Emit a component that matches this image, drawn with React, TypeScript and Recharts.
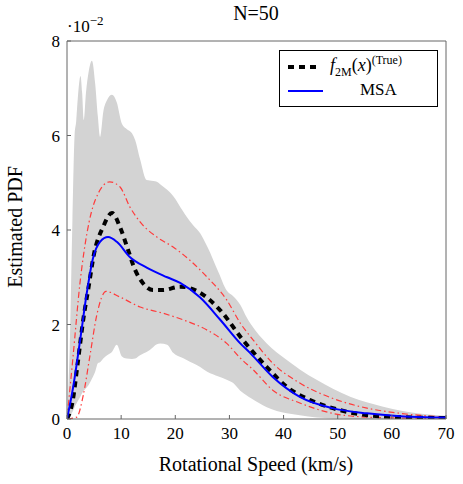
import React from "react";
import { ComposedChart, Area, Line, XAxis, YAxis } from "recharts";

// values are in units of 1e-2 (the axis multiplier is shown above the plot)
const bandX = [0, 0.5, 1, 1.4, 1.7, 2.0, 2.5, 2.8, 3.1, 3.5, 4.0, 4.6, 5.2, 5.7, 6.1, 6.7, 7.4, 8.3, 9.2, 10.1, 11, 12, 12.6, 13.5, 14.7, 15.3, 16.6, 17.2, 18.5, 19.6, 21.4, 22.1, 23.3, 24.6, 25.9, 28, 29.5, 30.7, 32, 33.2, 34, 36.9, 40.6, 43, 46.1, 52.3, 58.4, 64.6, 70];
const bandHigh = [0, 1.5, 4.2, 6.0, 6.3, 6.8, 7.26, 6.9, 6.33, 6.9, 7.35, 7.58, 7.1, 6.4, 5.97, 6.5, 6.75, 6.86, 6.7, 6.26, 6.14, 6.05, 5.9, 5.5, 5.06, 5.05, 5.02, 4.97, 4.85, 4.72, 4.4, 4.28, 4.1, 3.93, 3.65, 3.1, 2.72, 2.6, 2.42, 2.15, 2.0, 1.6, 1.25, 1.05, 0.83, 0.47, 0.26, 0.12, 0.07];
const bandLow = [0, 0.05, 0.15, 0.25, 0.32, 0.38, 0.48, 0.55, 0.6, 0.65, 0.72, 0.85, 1.0, 1.18, 1.2, 1.28, 1.35, 1.42, 1.57, 1.33, 1.28, 1.27, 1.28, 1.35, 1.42, 1.46, 1.58, 1.6, 1.57, 1.4, 1.29, 1.25, 1.18, 1.1, 1.0, 0.9, 0.83, 0.76, 0.6, 0.5, 0.44, 0.25, 0.12, 0.08, 0.03, 0, 0, 0, 0];

const trueX = [0, 1, 2, 3, 4, 5, 6.65, 8.3, 9.8, 11.1, 12.6, 14.0, 15.9, 17.7, 20.9, 22.7, 24.6, 28.3, 32.5, 36.9, 40.6, 44.9, 49.1, 55.4, 61.5, 70];
const trueY = [0, 0.35, 1.2, 2.1, 2.8, 3.5, 4.06, 4.36, 4.06, 3.64, 3.15, 2.88, 2.73, 2.73, 2.8, 2.77, 2.67, 2.3, 1.67, 1.1, 0.68, 0.4, 0.23, 0.08, 0.04, 0.02];

const msaX = [0, 1.1, 2.4, 3.7, 4.8, 6.1, 7.6, 9.2, 11.6, 14.8, 18.5, 20.9, 24.6, 28.3, 32, 33.8, 38, 43, 49, 55.4, 61.5, 70];
const msaY = [0, 0.65, 1.65, 2.7, 3.4, 3.75, 3.85, 3.75, 3.43, 3.2, 3.0, 2.88, 2.57, 2.1, 1.6, 1.4, 0.89, 0.47, 0.23, 0.12, 0.06, 0.03];

const upperX = [0, 1.1, 2.4, 3.7, 5.2, 7.9, 9.8, 11.6, 13.5, 16.6, 19.6, 22.7, 25.9, 29.5, 32, 34.4, 38, 43, 49, 55.4, 61.5, 70];
const upperY = [0, 1.3, 2.88, 3.94, 4.63, 5.02, 4.91, 4.49, 4.17, 3.85, 3.64, 3.36, 3.0, 2.52, 2.03, 1.67, 1.18, 0.76, 0.44, 0.23, 0.12, 0.04];

const lowerX = [0, 1.8, 3, 4.25, 5.5, 7.2, 9.8, 13.5, 17.7, 21.4, 25.9, 29.5, 32, 34.4, 38, 43, 49, 55.4, 61.5, 70];
const lowerY = [0, 0.04, 0.5, 1.35, 2.2, 2.7, 2.58, 2.37, 2.24, 2.1, 1.88, 1.6, 1.29, 1.04, 0.61, 0.34, 0.12, 0.04, 0.02, 0.01];

const xTicks = [0, 10, 20, 30, 40, 50, 60, 70];
const yTicks = [0, 2, 4, 6, 8];

type Row = {
  x: number;
  band?: [number, number];
  truth?: number;
  msa?: number;
  up?: number;
  low?: number;
};

function buildRows(): Row[] {
  const map = new Map<number, Row>();
  const get = (x: number) => {
    let row = map.get(x);
    if (!row) {
      row = { x };
      map.set(x, row);
    }
    return row;
  };
  bandX.forEach((x, i) => (get(x).band = [bandLow[i], bandHigh[i]]));
  trueX.forEach((x, i) => (get(x).truth = trueY[i]));
  msaX.forEach((x, i) => (get(x).msa = msaY[i]));
  upperX.forEach((x, i) => (get(x).up = upperY[i]));
  lowerX.forEach((x, i) => (get(x).low = lowerY[i]));
  return [...map.values()].sort((a, b) => a.x - b.x);
}

const rows = buildRows();

const serif = "'Liberation Serif', 'DejaVu Serif', serif";
const axisColor = "#666";
const tickStyle = { fontSize: 17, fill: "#000", fontFamily: serif };

const LegendBox = () => (
  <div
    style={{
      position: "absolute",
      left: 279,
      top: 50,
      border: "1px solid #000",
      background: "#fff",
      width: 157,
      height: 55,
      fontFamily: serif,
      color: "#000",
    }}
  >
    <svg width={40} height={55} style={{ position: "absolute", left: 7, top: 0 }}>
      <line x1={1} x2={33} y1={16} y2={16} stroke="#000" strokeWidth={4} strokeDasharray="6 5" />
      <line x1={1} x2={36} y1={40} y2={40} stroke="#0000ff" strokeWidth={2} />
    </svg>
    <div style={{ position: "absolute", left: 50, top: 2, whiteSpace: "nowrap", fontSize: 18 }}>
      <i>f</i>
      <sub style={{ fontSize: 12 }}>2M</sub>(<i>x</i>)
      <sup style={{ fontSize: 12 }}>(True)</sup>
    </div>
    <div style={{ position: "absolute", left: 80, top: 29, fontSize: 17 }}>MSA</div>
  </div>
);

export default function App() {
  return (
    <div style={{ position: "absolute", left: 0, top: 0, width: 463, height: 484, background: "#fff" }}>
      <ComposedChart
        width={463}
        height={484}
        data={rows}
        margin={{ top: 40, right: 16, bottom: 35, left: 27 }}
      >
        <XAxis
          dataKey="x"
          type="number"
          domain={[0, 70]}
          ticks={xTicks}
          allowDataOverflow
          height={30}
          stroke={axisColor}
          tickSize={-4}
          tickMargin={12}
          tick={tickStyle}
        />
        <XAxis
          xAxisId="top"
          dataKey="x"
          type="number"
          orientation="top"
          domain={[0, 70]}
          ticks={xTicks}
          height={1}
          stroke={axisColor}
          tickSize={-4}
          tick={false}
        />
        <YAxis
          type="number"
          domain={[0, 8]}
          ticks={yTicks}
          allowDataOverflow
          width={40}
          stroke={axisColor}
          tickSize={-4}
          tickMargin={11}
          tick={tickStyle}
        />
        <YAxis
          yAxisId="right"
          orientation="right"
          type="number"
          domain={[0, 8]}
          ticks={yTicks}
          width={1}
          stroke={axisColor}
          tickSize={-4}
          tick={false}
        />
        <Area
          dataKey="band"
          type="monotone"
          stroke="none"
          fill="#d3d3d3"
          fillOpacity={1}
          connectNulls
          isAnimationActive={false}
        />
        <Line
          dataKey="up"
          type="monotone"
          stroke="#ff3b3b"
          strokeWidth={1.2}
          strokeDasharray="6 3 1.5 3"
          dot={false}
          connectNulls
          isAnimationActive={false}
        />
        <Line
          dataKey="low"
          type="monotone"
          stroke="#ff3b3b"
          strokeWidth={1.2}
          strokeDasharray="6 3 1.5 3"
          dot={false}
          connectNulls
          isAnimationActive={false}
        />
        <Line
          dataKey="truth"
          type="monotone"
          stroke="#000"
          strokeWidth={4}
          strokeDasharray="6 5"
          dot={false}
          connectNulls
          isAnimationActive={false}
        />
        <Line
          dataKey="msa"
          type="monotone"
          stroke="#0000ff"
          strokeWidth={2}
          dot={false}
          connectNulls
          isAnimationActive={false}
        />
      </ComposedChart>
      <LegendBox />
      <div
        style={{
          position: "absolute",
          left: 206,
          width: 100,
          top: 2,
          textAlign: "center",
          fontFamily: serif,
          fontSize: 20,
        }}
      >
        N=50
      </div>
      <div style={{ position: "absolute", left: 67, top: 13, fontFamily: serif, fontSize: 17 }}>
        ·10<sup style={{ fontSize: 13 }}>−2</sup>
      </div>
      <div
        style={{
          position: "absolute",
          left: 106,
          width: 300,
          top: 453,
          textAlign: "center",
          fontFamily: serif,
          fontSize: 20,
        }}
      >
        Rotational Speed (km/s)
      </div>
      <div
        style={{
          position: "absolute",
          left: 15,
          top: 227,
          transform: "translate(-50%, -50%) rotate(-90deg)",
          whiteSpace: "nowrap",
          fontFamily: serif,
          fontSize: 20,
        }}
      >
        Estimated PDF
      </div>
    </div>
  );
}
